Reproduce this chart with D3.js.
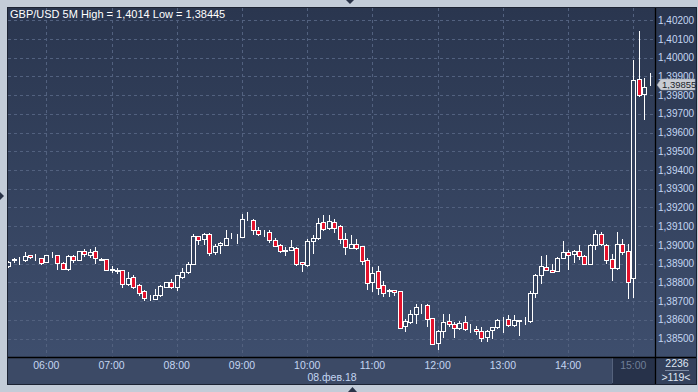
<!DOCTYPE html>
<html><head><meta charset="utf-8">
<script src="https://cdn.jsdelivr.net/npm/d3@7"></script>
<style>
body{margin:0;background:#c3ccd8;overflow:hidden;}
svg{display:block;font-family:"Liberation Sans",Arial,sans-serif;}
</style>
</head><body>
<svg id="c" width="698" height="392"></svg>
<script>
const title = "GBP/USD 5M High = 1,4014 Low = 1,38445";
const startTime = new Date(2018, 1, 8, 5, 25);
const opens = [1.38885,1.38921,1.38920,1.38921,1.38947,1.38936,1.38931,1.38908,1.38946,1.38947,1.38905,1.38869,1.38939,1.38921,1.38969,1.38946,1.38965,1.38925,1.38923,1.38868,1.38865,1.38867,1.38793,1.38826,1.38787,1.38752,1.38720,1.38713,1.38734,1.38775,1.38803,1.38775,1.38828,1.38853,1.38898,1.39045,1.39033,1.39060,1.38962,1.38997,1.39001,1.39048,1.39050,1.39042,1.39139,1.39134,1.39081,1.39064,1.39067,1.39024,1.39001,1.38972,1.38974,1.38985,1.38907,1.38894,1.39020,1.39038,1.39122,1.39092,1.39124,1.39099,1.39033,1.38985,1.39006,1.38992,1.38921,1.38802,1.38858,1.38784,1.38755,1.38760,1.38752,1.38567,1.38588,1.38633,1.38671,1.38681,1.38609,1.38475,1.38538,1.38595,1.38577,1.38555,1.38586,1.38556,1.38549,1.38539,1.38507,1.38545,1.38562,1.38599,1.38602,1.38574,1.38598,1.38592,1.38593,1.38745,1.38841,1.38882,1.38867,1.38860,1.38931,1.38962,1.38953,1.38969,1.38942,1.38899,1.39001,1.39060,1.39001,1.38927,1.38876,1.39005,1.38968,1.38822,1.39885,1.39806,1.39853];
const highs = [1.38912,1.38931,1.38935,1.38960,1.38948,1.38949,1.38932,1.38948,1.38960,1.38948,1.38910,1.38947,1.38946,1.38968,1.38976,1.38976,1.38987,1.38931,1.38925,1.38885,1.38875,1.38868,1.38853,1.38841,1.38793,1.38757,1.38732,1.38766,1.38784,1.38803,1.38818,1.38838,1.38876,1.38908,1.39060,1.39046,1.39061,1.39061,1.39003,1.39013,1.39077,1.39065,1.39060,1.39166,1.39174,1.39136,1.39095,1.39077,1.39081,1.39038,1.39006,1.38988,1.39028,1.38988,1.38908,1.39033,1.39051,1.39145,1.39161,1.39161,1.39138,1.39109,1.39063,1.39051,1.39033,1.38994,1.38931,1.38882,1.38885,1.38805,1.38766,1.38761,1.38753,1.38602,1.38651,1.38682,1.38686,1.38683,1.38610,1.38548,1.38633,1.38629,1.38588,1.38594,1.38622,1.38579,1.38567,1.38562,1.38545,1.38561,1.38604,1.38615,1.38627,1.38627,1.38600,1.38615,1.38753,1.38846,1.38939,1.38947,1.38899,1.38935,1.39019,1.38974,1.38971,1.38997,1.38947,1.39006,1.39077,1.39069,1.39006,1.38950,1.39070,1.39032,1.39005,1.39988,1.40143,1.39890,1.39920];
const lows = [1.38882,1.38907,1.38899,1.38914,1.38932,1.38921,1.38899,1.38907,1.38935,1.38869,1.38869,1.38866,1.38908,1.38920,1.38942,1.38937,1.38905,1.38919,1.38866,1.38855,1.38851,1.38775,1.38787,1.38771,1.38730,1.38704,1.38707,1.38709,1.38729,1.38773,1.38771,1.38761,1.38823,1.38850,1.38897,1.39006,1.39006,1.38944,1.38953,1.38956,1.38997,1.39038,1.39010,1.39041,1.39131,1.39060,1.39054,1.39045,1.39015,1.38992,1.38960,1.38944,1.38971,1.38891,1.38860,1.38889,1.38958,1.39033,1.39077,1.39086,1.39069,1.39010,1.38949,1.38981,1.38976,1.38899,1.38762,1.38753,1.38736,1.38725,1.38727,1.38734,1.38555,1.38541,1.38585,1.38583,1.38636,1.38566,1.38468,1.38445,1.38510,1.38566,1.38510,1.38551,1.38548,1.38537,1.38524,1.38486,1.38489,1.38502,1.38558,1.38537,1.38565,1.38568,1.38520,1.38579,1.38588,1.38721,1.38798,1.38864,1.38855,1.38858,1.38930,1.38869,1.38907,1.38926,1.38898,1.38898,1.38980,1.38997,1.38902,1.38813,1.38870,1.38950,1.38715,1.38724,1.39796,1.39671,1.39853];
const closes = [1.38908,1.38923,1.38922,1.38942,1.38933,1.38934,1.38905,1.38947,1.38948,1.38905,1.38873,1.38939,1.38921,1.38967,1.38953,1.38960,1.38928,1.38921,1.38867,1.38870,1.38863,1.38793,1.38823,1.38775,1.38745,1.38716,1.38722,1.38730,1.38778,1.38800,1.38775,1.38837,1.38853,1.38898,1.39045,1.39028,1.39060,1.38956,1.38992,1.39010,1.39038,1.39050,1.39048,1.39140,1.39141,1.39077,1.39060,1.39062,1.39024,1.38996,1.38967,1.38970,1.38987,1.38899,1.38896,1.39020,1.39038,1.39118,1.39085,1.39127,1.39092,1.39033,1.38988,1.39006,1.38983,1.38914,1.38798,1.38851,1.38771,1.38743,1.38757,1.38746,1.38558,1.38592,1.38629,1.38670,1.38673,1.38602,1.38470,1.38539,1.38590,1.38575,1.38555,1.38581,1.38551,1.38554,1.38538,1.38503,1.38539,1.38560,1.38597,1.38601,1.38574,1.38600,1.38596,1.38594,1.38745,1.38837,1.38885,1.38867,1.38857,1.38931,1.38964,1.38947,1.38967,1.38939,1.38899,1.38997,1.39060,1.39003,1.38917,1.38876,1.39005,1.38961,1.38804,1.39881,1.39799,1.39846,1.39855];
const priceTicks = [1.385,1.386,1.387,1.388,1.389,1.390,1.391,1.392,1.393,1.394,1.395,1.396,1.397,1.398,1.399,1.400,1.401,1.402];
const hourTicks = [6,7,8,9,10,11,12,13,14,15];
const lastPrice = 1.39855;
const dateLabel = "08.фев.18";
const barTotal = "2236";
const barsVisible = ">119<";

const svg = d3.select("#c");
const P = {l:8, t:8, r:655, b:357};
const defs = svg.append("defs");
const g1 = defs.append("linearGradient").attr("id","bg").attr("x1",0).attr("y1",0).attr("x2",0).attr("y2",1);
g1.append("stop").attr("offset","0%").attr("stop-color","#2a364f");
g1.append("stop").attr("offset","100%").attr("stop-color","#3e4e6d");
defs.append("clipPath").attr("id","clip").append("rect")
  .attr("x",P.l).attr("y",P.t).attr("width",P.r-P.l).attr("height",P.b-P.t);

// frame
svg.append("rect").attr("x",P.l-1).attr("y",P.t-1).attr("width",696-P.l+2).attr("height",384-P.t+2).attr("fill","#1c2333");
svg.append("rect").attr("x",P.l).attr("y",P.t).attr("width",696-P.l).attr("height",P.b-P.t).attr("fill","url(#bg)");
svg.append("rect").attr("x",P.l).attr("y",P.b).attr("width",P.r-P.l).attr("height",384-P.b).attr("fill","#3c4a66");
svg.append("rect").attr("x",P.r).attr("y",P.b).attr("width",696-P.r).attr("height",384-P.b).attr("fill","#34415c");

const x = d3.scaleTime()
  .domain([new Date(2018,1,8,6,0), new Date(2018,1,8,15,0)])
  .range([46.3, 633.3]);
const y = d3.scaleLinear().domain([1.385, 1.402]).range([338.5, 20.3]);

// current hour shaded area in time axis
const shadeX = Math.round(x(new Date(2018,1,8,14,40)));
svg.append("rect").attr("x",shadeX).attr("y",P.b)
  .attr("width",P.r-shadeX).attr("height",384-P.b).attr("fill","#27324a");
svg.append("line").attr("x1",shadeX+0.5).attr("x2",shadeX+0.5)
  .attr("y1",P.b+1).attr("y2",383).attr("stroke","#55627c");

// grid
const grid = svg.append("g").attr("clip-path","url(#clip)");
grid.selectAll("line.h").data(priceTicks).join("line")
  .attr("x1",P.l).attr("x2",P.r)
  .attr("y1",d=>Math.round(y(d))+0.5).attr("y2",d=>Math.round(y(d))+0.5)
  .attr("stroke","#52617f").attr("stroke-dasharray","3,3");
grid.selectAll("line.v").data(hourTicks).join("line")
  .attr("y1",P.t).attr("y2",P.b)
  .attr("x1",d=>Math.round(x(new Date(2018,1,8,d,0)))+0.5).attr("x2",d=>Math.round(x(new Date(2018,1,8,d,0)))+0.5)
  .attr("stroke","#52617f").attr("stroke-dasharray","3,3");

// candles
const bars = opens.map((o,i)=>({t:new Date(+startTime + i*300000), o, h:highs[i], l:lows[i], c:closes[i]}));
const cg = svg.append("g").attr("clip-path","url(#clip)");
bars.forEach(b=>{
  const cx = Math.round(x(b.t));
  const yh = Math.round(y(b.h)), yl = Math.round(y(b.l));
  const yt = Math.round(y(Math.max(b.o,b.c))), yb = Math.round(y(Math.min(b.o,b.c)));
  cg.append("line").attr("x1",cx+0.5).attr("x2",cx+0.5).attr("y1",yh).attr("y2",yl+1)
    .attr("stroke","#ffffff").attr("stroke-width",1);
  cg.append("rect").attr("x",cx-1.5).attr("width",4).attr("y",yt+0.5).attr("height",Math.max(0,yb-yt))
    .attr("fill", b.c < b.o ? "#e3122c" : "none").attr("stroke","#ffffff").attr("stroke-width",1)
    .attr("shape-rendering","crispEdges");
  if (b.c >= b.o) {
    cg.append("rect").attr("x",cx-1).attr("width",3).attr("y",yt+1).attr("height",Math.max(0,yb-yt-1))
      .attr("fill","#33415d");
  }
});

// separators
svg.append("line").attr("x1",P.r+0.5).attr("x2",P.r+0.5).attr("y1",P.t).attr("y2",384).attr("stroke","#000").attr("stroke-width",1.3);
svg.append("line").attr("x1",P.l).attr("x2",696).attr("y1",P.b+0.5).attr("y2",P.b+0.5).attr("stroke","#000").attr("stroke-width",1.3);

// y labels
const fmt = d => d3.format(".5f")(d).replace(".", ",");
const ly = Math.round(y(lastPrice));
svg.append("g").selectAll("text").data(priceTicks).join("text")
  .attr("x",658).attr("y",d=>y(d)+3.6)
  .attr("fill","#c4d6f2").attr("font-size","10px").text(fmt);

// x labels
svg.append("g").selectAll("text").data(hourTicks).join("text")
  .attr("x",d=>x(new Date(2018,1,8,d,0))).attr("y",369)
  .attr("text-anchor","middle").attr("font-size","10.5px")
  .attr("fill",d=>d===15?"#6f7f98":"#c4d6f2")
  .text(d=>d3.timeFormat("%H:%M")(new Date(2018,1,8,d,0)));
svg.append("text").attr("x",332).attr("y",380.5).attr("text-anchor","middle").attr("font-size","10.5px")
  .attr("fill","#c4d6f2").text(dateLabel);

// bottom-right box
svg.append("text").attr("x",677).attr("y",367).attr("text-anchor","middle").attr("font-size","10.5px").attr("fill","#dfe6f2").text(barTotal);
svg.append("line").attr("x1",665).attr("x2",689).attr("y1",370.5).attr("y2",370.5).attr("stroke","#7d8aa2");
svg.append("text").attr("x",676).attr("y",380.5).attr("text-anchor","middle").attr("font-size","10.5px").attr("fill","#dfe6f2").text(barsVisible);

// last price tag
svg.append("path").attr("d",`M657,${ly} L661,${ly-6} L695,${ly-6} L695,${ly+5} L661,${ly+5} Z`)
  .attr("fill","#c8ccd3").attr("stroke","#9aa0aa").attr("stroke-width",0.5);
svg.append("text").attr("x",662).attr("y",ly+3.3).attr("font-size","9.5px").attr("fill","#1a1f2a").text(fmt(lastPrice));

// title
svg.append("text").attr("x",10).attr("y",18).attr("font-size","11px").attr("fill","#ffffff").text(title);

// margin markers
svg.append("path").attr("d","M346,0 L354,0 L350,4 Z").attr("fill","#2a3348");
svg.append("path").attr("d","M0,192 L0,200 L4,196 Z").attr("fill","#2a3348");
svg.append("path").attr("d","M348,392 L357,392 L352.5,387 Z").attr("fill","#2a3348");
</script>
</body></html>
